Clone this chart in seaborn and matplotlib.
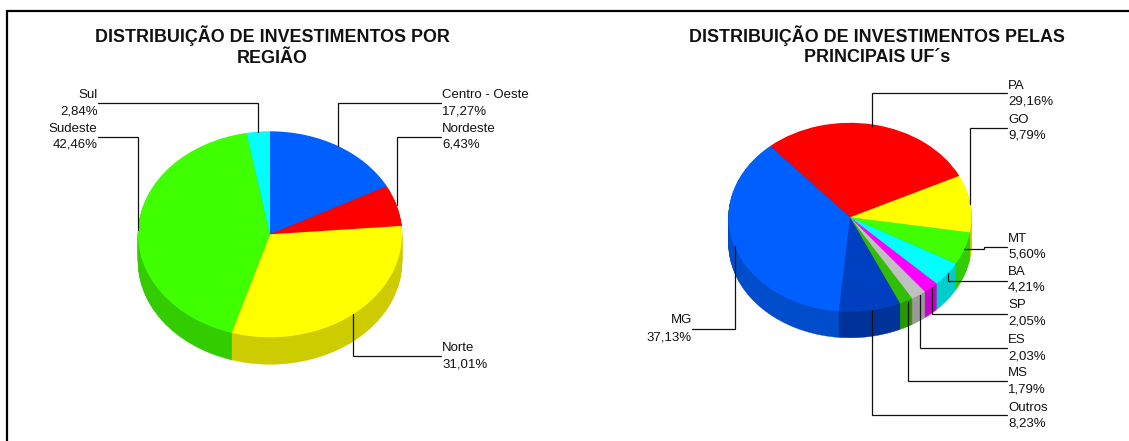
import matplotlib
matplotlib.use('Agg')
import matplotlib.pyplot as plt
import seaborn as sns
import numpy as np

sns.set_theme(style='white')
plt.rcParams['font.family'] = ['Liberation Sans', 'DejaVu Sans']

W, H = 1129, 441

# left chart: by region
regions = ['Centro - Oeste', 'Nordeste', 'Norte', 'Sudeste', 'Sul']
region_values = [17.27, 6.43, 31.01, 42.46, 2.84]
region_colors = ['#0060FF', '#FF0000', '#FFFF00', '#40FF00', '#00FFFF']

# right chart: by state
states = ['PA', 'GO', 'MT', 'BA', 'SP', 'ES', 'MS', 'Outros', 'MG']
state_values = [29.16, 9.79, 5.60, 4.21, 2.05, 2.03, 1.79, 8.23, 37.13]
state_colors = ['#FF0000', '#FFFF00', '#40FF00', '#00FFFF', '#FF00FF',
                '#C0C0C0', '#30BF00', '#0040C0', '#0060FF']


def draw_pie(cx, cy, rx, ry, depth, values, colors, start):
    # one data unit = rx px across and ry px down, so the pie comes out tilted
    ax = fig.add_axes([(cx - 1.2 * rx) / W, 1 - (cy + 1.6 * ry) / H,
                       2.4 * rx / W, 2.8 * ry / H])
    top = sns.color_palette(colors)
    side = [tuple(c * 0.8 for c in col) for col in top]
    # wall is a stack of darker pies, one per pixel of depth
    for d in np.arange(depth, 0, -1):
        wedges = ax.pie(values, colors=side, startangle=start, counterclock=False,
                        center=(0, -d / ry), wedgeprops=dict(linewidth=0.3))[0]
        for w in wedges:
            w.set_edgecolor(w.get_facecolor())
    ax.pie(values, colors=top, startangle=start, counterclock=False,
           wedgeprops=dict(linewidth=0))
    ax.set_aspect('auto')
    ax.set_xlim(-1.2, 1.2)
    ax.set_ylim(-1.6, 1.2)


def label(x, y1, y2, name, value, ha='left'):
    txt = f'{value:.2f}'.replace('.', ',') + '%'
    over.text(x, y1 + 3.3, name, ha=ha, va='baseline', fontsize=fs, color='#111111')
    over.text(x, y2 + 3.3, txt, ha=ha, va='baseline', fontsize=fs, color='#111111')


fig = plt.figure(figsize=[W / 100, H / 100], dpi=100, facecolor='white')

draw_pie(270, 234.3, 132, 103, 27, region_values, region_colors, 90)
draw_pie(850, 217.3, 121.5, 94.5, 26, state_values, state_colors, 131)

# overlay in pixel coordinates for frame, titles, leaders and labels
over = fig.add_axes([0, 0, 1, 1], zorder=5)
over.set_xlim(0, W)
over.set_ylim(H, 0)
over.axis('off')
fs = 9.55
tfs = 12.9
lw = 0.9

over.plot([7, 7, W], [H, 11, 11], color='black', lw=1.6, solid_joinstyle='miter')

over.text(272.5, 41.5, 'DISTRIBUIÇÃO DE INVESTIMENTOS POR', ha='center', va='baseline',
          fontsize=tfs, fontweight='bold', color='#111111')
over.text(272.5, 63, 'REGIÃO', ha='center', va='baseline',
          fontsize=tfs, fontweight='bold', color='#111111')
over.text(877, 41.5, 'DISTRIBUIÇÃO DE INVESTIMENTOS PELAS', ha='center', va='baseline',
          fontsize=tfs, fontweight='bold', color='#111111')
over.text(877, 62, 'PRINCIPAIS UF´s', ha='center', va='baseline',
          fontsize=tfs, fontweight='bold', color='#111111')

# leaders, left chart
left_leaders = [([441, 337.5, 337.5], [103.3, 103.3, 146]),
                ([441, 397, 397], [136.7, 136.7, 205]),
                ([441, 353, 353], [355.7, 355.7, 313.5]),
                ([98, 138, 138], [136.7, 136.7, 230]),
                ([98, 258, 258], [103.3, 103.3, 132])]
left_label_pos = [(442, 95, 110.7, 'left'), (442, 128.3, 144, 'left'),
                  (442, 348, 364, 'left'), (97.5, 128.3, 144, 'right'),
                  (97.5, 95, 110.7, 'right')]
for (xs, ys) in left_leaders:
    over.plot(xs, ys, color='#111111', lw=lw, solid_joinstyle='miter')
for (x, y1, y2, ha), name, v in zip(left_label_pos, regions, region_values):
    label(x, y1, y2, name, v, ha)

# leaders, right chart
right_leaders = [([1007, 872, 872], [93.3, 93.3, 126]),
                 ([1007, 970, 970], [128, 128, 204]),
                 ([1007, 983.6, 983.6, 964.4], [247, 247, 249, 249]),
                 ([1007, 947.5, 947.5], [280.7, 280.7, 273]),
                 ([1007, 932.3, 932.3], [314, 314, 287.3]),
                 ([1007, 919.5, 919.5], [347.7, 347.7, 295]),
                 ([1007, 907.7, 907.7], [381.3, 381.3, 301.7]),
                 ([1007, 871.6, 871.6], [415, 415, 310]),
                 ([692, 735.3, 735.3], [328.7, 328.7, 246])]
right_label_pos = [(1008, 85.7, 101.3, 'left'), (1008, 119.3, 135, 'left'),
                   (1008, 238.3, 254, 'left'), (1008, 272, 287.3, 'left'),
                   (1008, 305, 321, 'left'), (1008, 340, 356, 'left'),
                   (1008, 372.7, 389, 'left'), (1008, 407.3, 422.7, 'left'),
                   (691.8, 320, 336.7, 'right')]
for (xs, ys) in right_leaders:
    over.plot(xs, ys, color='#111111', lw=lw, solid_joinstyle='miter')
for (x, y1, y2, ha), name, v in zip(right_label_pos, states, state_values):
    label(x, y1, y2, name, v, ha)

plt.savefig('out.png', dpi=100)
plt.close()
